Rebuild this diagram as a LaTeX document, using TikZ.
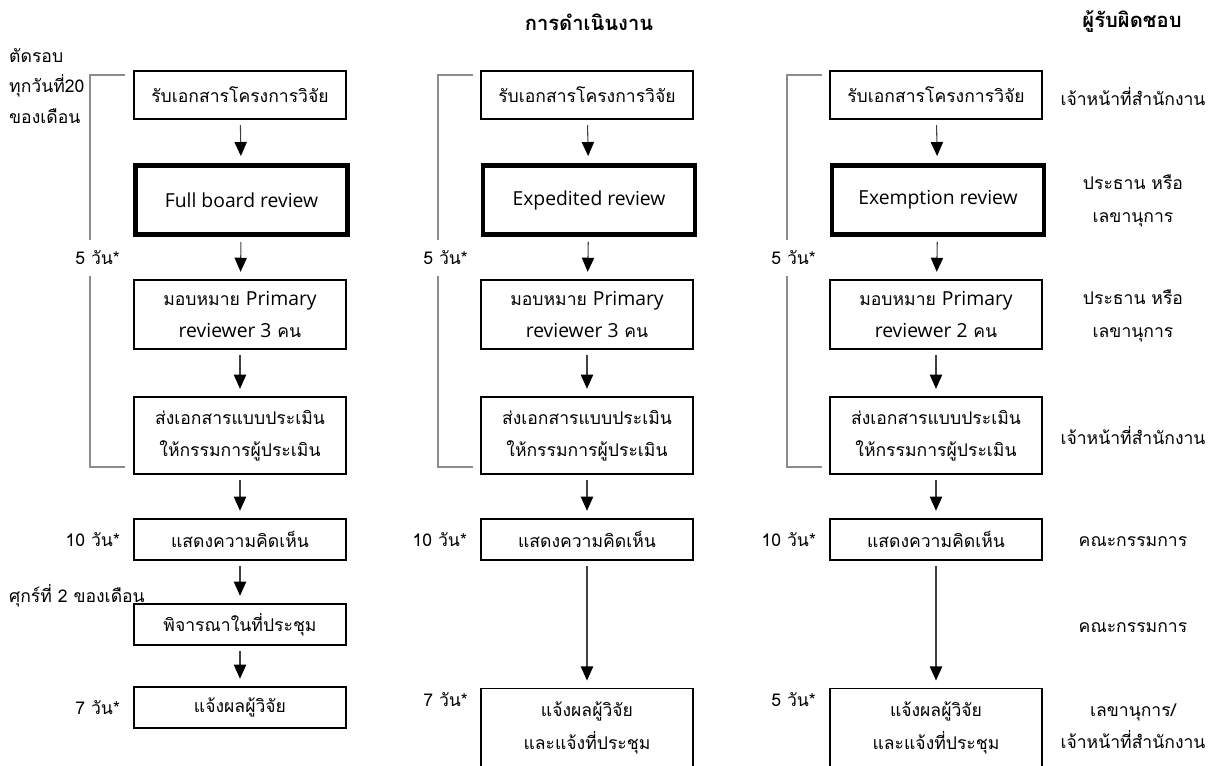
\documentclass[tikz,border=0pt]{standalone}
\usepackage{fontspec}
\setmainfont{Loma}[Script=Thai]
\newfontfamily\latin{Open Sans}
\newcommand\lt[1]{{\latin\fontsize{11}{18.5}\selectfont #1}}
\usetikzlibrary{arrows.meta,positioning}
\tikzset{
  centered/.style = { align=center, anchor=center },
       box/.style = { draw, line width=1.1pt, centered, inner sep=0pt,
                      minimum width=4.24cm, font=\fontsize{10}{18.5}\selectfont },
    review/.style = { box, line width=2.8pt, minimum height=1.38cm },
     arrow/.style = { draw=black!75, line width=0.6pt,
                      -{Triangle[width=7pt,length=8pt,black]},
                      shorten <=0.1cm, shorten >=0.14cm },
   bracket/.style = { draw=black!45, line width=0.6pt },
      days/.style = { anchor=east, font=\fontsize{10}{18.5}\selectfont },
      resp/.style = { centered, font=\fontsize{10}{18.5}\selectfont },
      head/.style = { centered, font=\fontsize{11.5}{18.5}\selectfont\bfseries }
}

\begin{document}
\begin{tikzpicture}[x=0.02cm,y=-0.02cm]
  \useasboundingbox (0,0) rectangle (1215,765);
  \clip (0,0) rectangle (1215,765);

  \node[head] (work) at (589,22) {การดำเนินงาน};
  \node[head] (owner) at (1132,22) {ผู้รับผิดชอบ};

  % full board
  \node[box, minimum height=0.97cm] (full1) at (240,95) {รับเอกสารโครงการวิจัย};
  \node[review] (full2) at (241.5,200) {\lt{Full board review}};
  \node[box, minimum height=1.39cm] (full3) at (240,314.5) {มอบหมาย \lt{Primary}\\\lt{reviewer 3} คน};
  \node[box, minimum height=1.55cm] (full4) at (240,435.5) {ส่งเอกสารแบบประเมิน\\ให้กรรมการผู้ประเมิน};
  \node[box, minimum height=0.83cm] (full5) at (240,539.5) {แสดงความคิดเห็น};
  \node[box, minimum height=0.83cm] (full6) at (240,624.5) {พิจารณาในที่ประชุม};
  \node[box, minimum height=0.83cm] (full7) at (240,707.5) {แจ้งผลผู้วิจัย};

  % expedited
  \node[box, minimum height=0.97cm] (exp1) at (587,95) {รับเอกสารโครงการวิจัย};
  \node[review] (exp2) at (589,200) {\lt{Expedited review}};
  \node[box, minimum height=1.39cm] (exp3) at (587,314.5) {มอบหมาย \lt{Primary}\\\lt{reviewer 3} คน};
  \node[box, minimum height=1.55cm] (exp4) at (587,435.5) {ส่งเอกสารแบบประเมิน\\ให้กรรมการผู้ประเมิน};
  \node[box, minimum height=0.83cm] (exp5) at (587,539.5) {แสดงความคิดเห็น};
  \node[box, minimum height=1.58cm] (exp7) at (587,728) {แจ้งผลผู้วิจัย\\และแจ้งที่ประชุม};

  % exemption
  \node[box, minimum height=0.97cm] (exm1) at (936,95) {รับเอกสารโครงการวิจัย};
  \node[review] (exm2) at (938,200) {\lt{Exemption review}};
  \node[box, minimum height=1.39cm] (exm3) at (936,314.5) {มอบหมาย \lt{Primary}\\\lt{reviewer 2} คน};
  \node[box, minimum height=1.55cm] (exm4) at (936,435.5) {ส่งเอกสารแบบประเมิน\\ให้กรรมการผู้ประเมิน};
  \node[box, minimum height=0.83cm] (exm5) at (936,539.5) {แสดงความคิดเห็น};
  \node[box, minimum height=1.58cm] (exm7) at (936,728) {แจ้งผลผู้วิจัย\\และแจ้งที่ประชุม};

  % time limits
  \node[align=left, anchor=west, font=\fontsize{10}{17.5}\selectfont] (cutoff) at (3,86) {ตัดรอบ\\ทุกวันที่20\\ของเดือน};
  \node[anchor=west, font=\fontsize{10}{18.5}\selectfont] (friday) at (3,596) {ศุกร์ที่ 2 ของเดือน};
  \node[days] (fullday1) at (126,258) {5 วัน*};
  \node[days, left=0.14cm of full5] (fullday2) {10 วัน*};
  \node[days, left=0.14cm of full7] (fullday3) {7 วัน*};
  \node[days] (expday1) at (474,258) {5 วัน*};
  \node[days, left=0.14cm of exp5] (expday2) {10 วัน*};
  \node[days] (expday3) at (474,700) {7 วัน*};
  \node[days] (exmday1) at (822,258) {5 วัน*};
  \node[days, left=0.14cm of exm5] (exmday2) {10 วัน*};
  \node[days] (exmday3) at (822,700) {5 วัน*};

  % who is responsible
  \node[resp] (resp1) at (1133,97) {เจ้าหน้าที่สำนักงาน};
  \node[resp] (resp2) at (1133,201) {ประธาน หรือ\\เลขานุการ};
  \node[resp] (resp3) at (1133,316) {ประธาน หรือ\\เลขานุการ};
  \node[resp] (resp4) at (1133,436) {เจ้าหน้าที่สำนักงาน};
  \node[resp] (resp5) at (1133,542) {คณะกรรมการ};
  \node[resp] (resp6) at (1133,628) {คณะกรรมการ};
  \node[resp] (resp7) at (1133,726) {เลขานุการ/\\เจ้าหน้าที่สำนักงาน};

  \draw [bracket] (125,75) -| (90,240);
  \draw [bracket] (90,276) |- (125,467);
  \draw [bracket] (473,75) -| (438,240);
  \draw [bracket] (438,276) |- (473,467);
  \draw [bracket] (822,75) -| (787,240);
  \draw [bracket] (787,276) |- (822,467);

  \draw [arrow] (full1) -- (full2);
  \draw [arrow] (full2) -- (full3);
  \draw [arrow] (full3) -- (full4);
  \draw [arrow] (full4) -- (full5);
  \draw [arrow] (full5) -- (full6);
  \draw [arrow] (full6) -- (full7);

  \draw [arrow] (exp1) -- (exp2);
  \draw [arrow] (exp2) -- (exp3);
  \draw [arrow] (exp3) -- (exp4);
  \draw [arrow] (exp4) -- (exp5);
  \draw [arrow] (exp5) -- (exp7);

  \draw [arrow] (exm1) -- (exm2);
  \draw [arrow] (exm2) -- (exm3);
  \draw [arrow] (exm3) -- (exm4);
  \draw [arrow] (exm4) -- (exm5);
  \draw [arrow] (exm5) -- (exm7);

\end{tikzpicture}
\end{document}
